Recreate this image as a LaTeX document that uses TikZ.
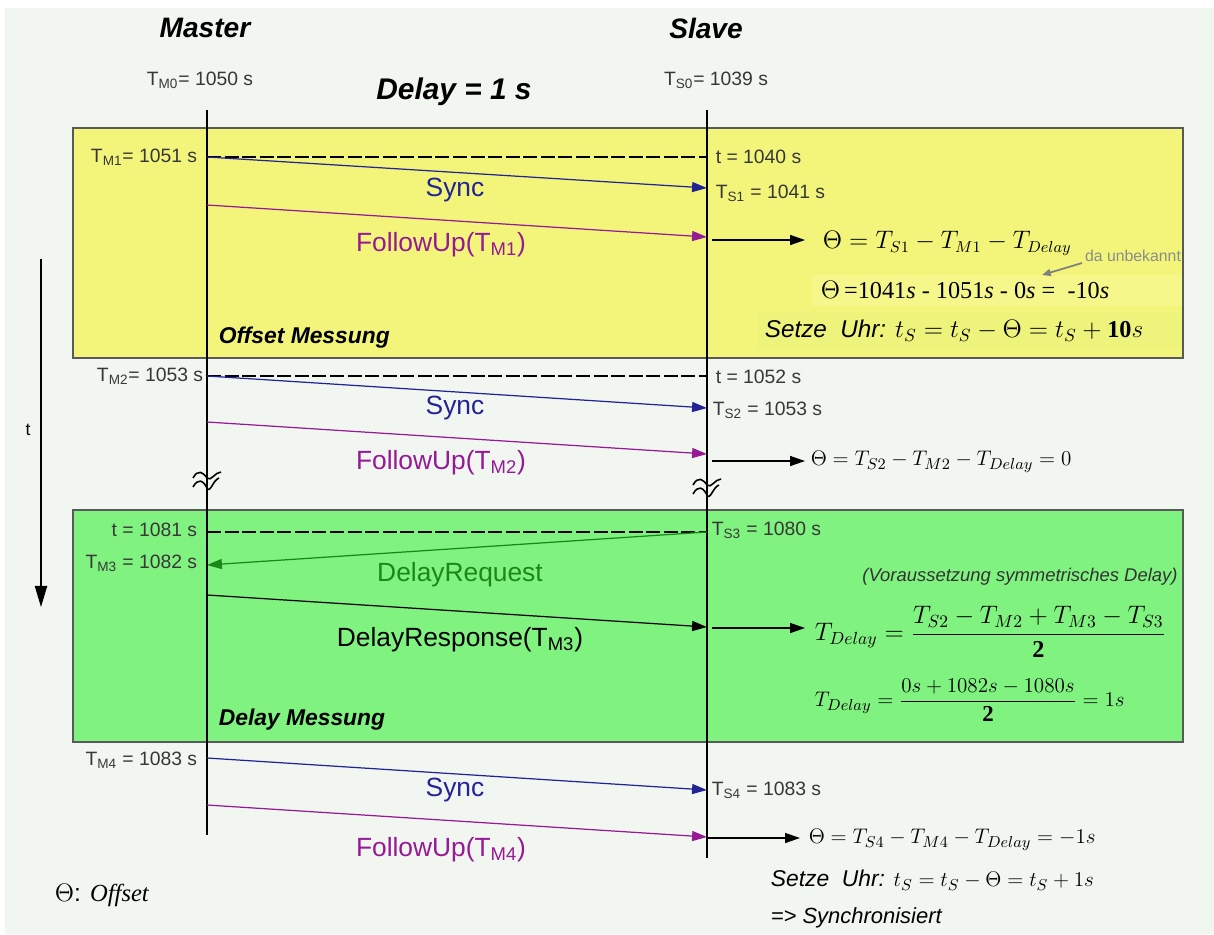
\documentclass[tikz,border=0pt]{standalone}
\usepackage{amsmath}
\usepackage{fontspec}
\setmainfont{Liberation Sans}
\newfontfamily\serifit{Liberation Serif}
\usetikzlibrary{arrows.meta}
\definecolor{bgcol}{RGB}{241,246,241}
\definecolor{yelcol}{RGB}{242,245,122}
\definecolor{yelhi}{RGB}{245,247,138}
\definecolor{yelhi2}{RGB}{238,243,124}
\definecolor{grncol}{RGB}{128,242,128}
\definecolor{synccol}{RGB}{35,35,150}
\definecolor{fupcol}{RGB}{150,25,150}
\definecolor{reqcol}{RGB}{25,135,25}
\definecolor{lblcol}{RGB}{55,55,55}
\newcommand{\bnum}[1]{\text{\serifit\bfseries #1}}
\begin{document}
\begin{tikzpicture}
[
 x=0.02cm, y=-0.02cm,
 inner sep=0.5mm,
 HEAD/.style={font=\fontsize{16}{18}\selectfont\bfseries\itshape},
 TLBL/.style={font=\fontsize{11}{13}\selectfont, text=lblcol},
 MSG/.style={line width=0.7pt, -{Triangle[length=8.5pt,width=5.7pt]}},
 MSGLBL/.style={font=\fontsize{15}{17}\selectfont},
 FORM/.style={font=\fontsize{13.8}{16}\selectfont, anchor=west},
 FORMS/.style={font=\fontsize{13}{15}\selectfont, anchor=west},
 BOX/.style={draw=black!65, line width=0.8pt},
 BOXLBL/.style={font=\fontsize{13}{15}\selectfont\bfseries\itshape, anchor=west},
 TICK/.style={line width=1.3pt, dash pattern=on 8pt off 2pt},
 RES/.style={line width=0.7pt, -{Triangle[length=8.5pt,width=5.7pt]}},
 ]
%
\useasboundingbox (0,0) rectangle (1214,934);
\fill[white] (0,0) rectangle (1214,934);
\fill[bgcol] (5,8) rectangle (1214,934);
%
\draw[BOX, fill=yelcol] (73,128) rectangle (1183,358);
\fill[yelhi]  (812,275) rectangle (1182,306);
\fill[yelhi2] (758,313) rectangle (1182,350);
\draw[BOX, fill=grncol] (73,510) rectangle (1183,742);
%
\node [HEAD] (master) at (205,28) {Master};
\node [HEAD] (slave)  at (706,28) {Slave};
\node [HEAD, font=\fontsize{17}{19}\selectfont\bfseries\itshape] (delay) at (454,92) {Delay = 1 s};
\node [TLBL] (tm0) at (200,80) {T\textsubscript{M0}= 1050 s};
\node [TLBL] (ts0) at (716,80) {T\textsubscript{S0}= 1039 s};
%
\coordinate (MTOP) at (207,110);
\coordinate (MBOT) at (207,835);
\coordinate (STOP) at (707,110);
\coordinate (SBOT) at (707,858);
\draw [line width=0.8pt] (MTOP) -- (MBOT);
\draw [line width=0.8pt] (STOP) -- (SBOT);
%
% time axis
\coordinate (TA) at (41,259);
\coordinate (TB) at (41,607);
\draw [line width=0.7pt, -{Triangle[length=12pt,width=7pt]}] (TA) -- (TB);
\node (tlbl) at (28,430) {t};
%
% Offset Messung
\coordinate (M1)  at (207,157);
\coordinate (S1d) at (707,157);
\coordinate (S1)  at (707,188);
\coordinate (F1a) at (207,205);
\coordinate (F1b) at (707,237);
\coordinate (E1)  at (712,240);
\coordinate (A1)  at (805,240);
\draw [TICK] (M1) -- (S1d);
\draw [MSG, synccol] (M1) -- (S1);
\draw [MSG, fupcol]  (F1a) -- (F1b);
\draw [RES] (E1) -- (A1);
\node [TLBL, anchor=east] (tm1) at (200,157) {T\textsubscript{M1}= 1051 s};
\node [TLBL, anchor=west] (t1)  at (713,157) {t = 1040 s};
\node [TLBL, anchor=west] (ts1) at (713,193) {T\textsubscript{S1} = 1041 s};
\node [MSGLBL, text=synccol] (sync1) at (455,190) {Sync};
\node [MSGLBL, text=fupcol]  (fup1)  at (441,245) {FollowUp(T\textsubscript{M1})};
\node [FORM, font=\fontsize{13.3}{15}\selectfont] (th1) at (820,243) {$\Theta = T_{S1} - T_{M1} - T_{Delay}$};
\node [font=\fontsize{9}{11}\selectfont, text=black!45] (unb) at (1133,256) {da unbekannt};
\coordinate (U1) at (1082,263);
\coordinate (U2) at (1042,275);
\draw [line width=1pt, black!50, -{Triangle[length=5pt,width=4pt]}] (U1) -- (U2);
\node [FORM] (th1b) at (818,290) {\serifit$\Theta$\,=1041\textit{s} - 1051\textit{s} - 0\textit{s} = \ -10\textit{s}};
\node [FORM] (set1) at (762,331) {\textit{Setze\ \ Uhr:} $t_S = t_S - \Theta = t_S + \bnum{10}s$};
\node [BOXLBL] (offm) at (216,338) {Offset Messung};
%
% zweiter Sync
\coordinate (M2)  at (207,376);
\coordinate (S2d) at (707,376);
\coordinate (S2)  at (707,408);
\coordinate (F2a) at (207,422);
\coordinate (F2b) at (707,454);
\coordinate (E2)  at (712,461);
\coordinate (A2)  at (805,461);
\draw [TICK] (M2) -- (S2d);
\draw [MSG, synccol] (M2) -- (S2);
\draw [MSG, fupcol]  (F2a) -- (F2b);
\draw [RES] (E2) -- (A2);
\node [TLBL, anchor=east] (tm2) at (206,376) {T\textsubscript{M2}= 1053 s};
\node [TLBL, anchor=west] (t2)  at (713,377) {t = 1052 s};
\node [TLBL, anchor=west] (ts2) at (710,410) {T\textsubscript{S2} = 1053 s};
\node [MSGLBL, text=synccol] (sync2) at (455,408) {Sync};
\node [MSGLBL, text=fupcol]  (fup2)  at (441,463) {FollowUp(T\textsubscript{M2})};
\node [FORMS] (th2) at (808,462) {$\Theta = T_{S2} - T_{M2} - T_{Delay} = 0$};
%
% Unterbrechung
\foreach \bx/\by in {207/480, 707/487}
  {
    \draw [line width=0.9pt] ({\bx-14},{\by-2}) .. controls ({\bx-9},{\by-11}) and ({\bx-4},{\by-8}) .. (\bx,{\by-2})
                                                .. controls ({\bx+4},{\by+2}) and ({\bx+8},{\by-8}) .. ({\bx+14},{\by-8});
    \draw [line width=0.9pt] ({\bx-14},{\by+7}) .. controls ({\bx-9},{\by-2}) and ({\bx-4},{\by}) .. (\bx,{\by+8})
                                                .. controls ({\bx+3},{\by+14}) and ({\bx+6},{\by}) .. ({\bx+12},{\by-2});
  }
%
% Delay Messung
\coordinate (M3d) at (207,532);
\coordinate (S3)  at (707,532);
\coordinate (M3)  at (207,565);
\coordinate (R3a) at (207,595);
\coordinate (R3b) at (707,627);
\coordinate (E3)  at (712,628);
\coordinate (A3)  at (805,628);
\draw [TICK] (M3d) -- (S3);
\draw [MSG, reqcol] (S3) -- (M3);
\draw [MSG, black]  (R3a) -- (R3b);
\draw [RES] (E3) -- (A3);
\node [TLBL, anchor=east] (t3)  at (200,530) {t = 1081 s};
\node [TLBL, anchor=east] (tm3) at (200,563) {T\textsubscript{M3} = 1082 s};
\node [TLBL, anchor=west] (ts3) at (709,530) {T\textsubscript{S3} = 1080 s};
\node [MSGLBL, text=reqcol] (req)  at (460,575) {DelayRequest};
\node [MSGLBL]               (resp) at (460,640) {DelayResponse(T\textsubscript{M3})};
\node [font=\fontsize{10.5}{12}\selectfont\itshape, text=black!80] (vor) at (1020,577) {(Voraussetzung symmetrisches Delay)};
\node [FORM] (td1) at (812,632) {$T_{Delay} = \dfrac{T_{S2}-T_{M2}+T_{M3}-T_{S3}}{\bnum{2}}$};
\node [FORMS] (td2) at (812,700) {$T_{Delay} = \dfrac{0s+1082s-1080s}{\bnum{2}} = 1s$};
\node [BOXLBL] (delm) at (216,720) {Delay Messung};
%
% dritter Sync
\coordinate (M4)  at (207,758);
\coordinate (S4)  at (707,790);
\coordinate (F4a) at (207,805);
\coordinate (F4b) at (707,837);
\coordinate (E4)  at (707,838);
\coordinate (A4)  at (800,838);
\draw [MSG, synccol] (M4) -- (S4);
\draw [MSG, fupcol]  (F4a) -- (F4b);
\draw [RES] (E4) -- (A4);
\node [TLBL, anchor=east] (tm4) at (200,760) {T\textsubscript{M4} = 1083 s};
\node [TLBL, anchor=west] (ts4) at (709,790) {T\textsubscript{S4} = 1083 s};
\node [MSGLBL, text=synccol] (sync4) at (455,790) {Sync};
\node [MSGLBL, text=fupcol]  (fup4)  at (441,850) {FollowUp(T\textsubscript{M4})};
\node [FORMS] (th4)  at (806,840) {$\Theta = T_{S4} - T_{M4} - T_{Delay} = -1s$};
\node [FORMS] (set4) at (768,880) {\textit{Setze\ \ Uhr:} $t_S = t_S - \Theta = t_S + 1s$};
\node [FORM, font=\fontsize{12.5}{14}\selectfont\itshape] (sync) at (768,918) {=> Synchronisiert};
%
\node [FORM, font=\fontsize{14}{16}\selectfont] (offs) at (52,895) {$\Theta$: {\serifit\itshape Offset}};
%
\end{tikzpicture}
\end{document}
